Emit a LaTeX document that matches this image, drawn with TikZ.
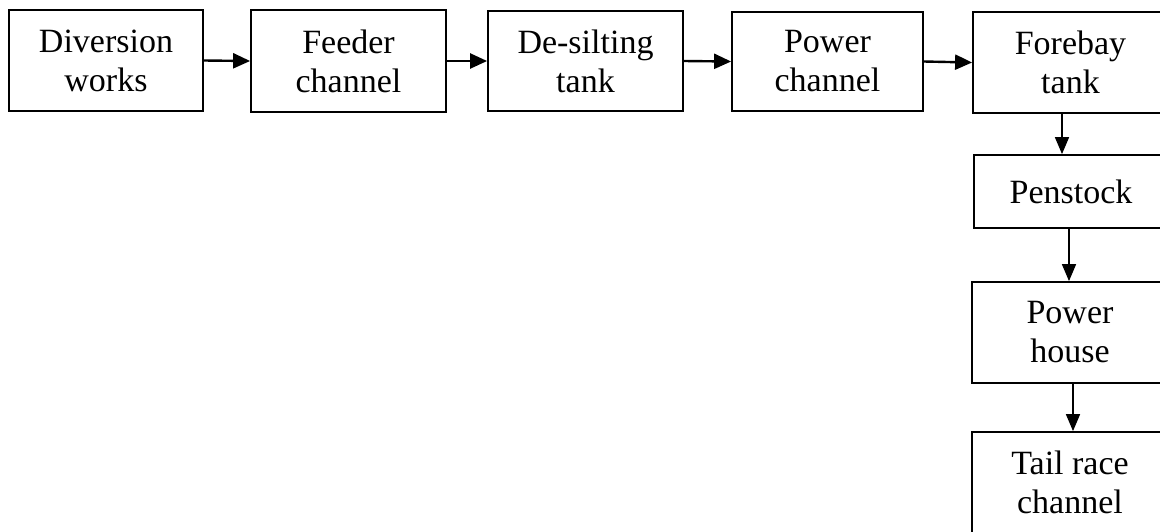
\documentclass[tikz,border=0pt]{standalone}
\usepackage{fontspec}
\setmainfont{Liberation Serif}
\usetikzlibrary{arrows.meta}
\begin{document}
\begin{tikzpicture}[x=1pt,y=-1pt,
  box/.style={draw, line width=1.8pt, inner sep=0pt, align=center,
    font=\fontsize{34}{39}\selectfont},
  harr/.style={line width=2.4pt, -{Triangle[length=17pt,width=15pt]}},
  varr/.style={line width=1.6pt, -{Triangle[length=17pt,width=14pt]}}]
\clip (0,0) rectangle (1160,531);
\fill[white] (0,0) rectangle (1160,531);
\node[box, minimum width=194pt, minimum height=101pt] (div) at (106,60.5) {Diversion\\works};
\node[box, minimum width=195pt, minimum height=102pt] (feed) at (348.5,61) {Feeder\\channel};
\node[box, minimum width=195pt, minimum height=100pt] (desilt) at (585.5,61) {De-silting\\tank};
\node[box, minimum width=191pt, minimum height=99pt] (powc) at (827.5,61.5) {Power\\channel};
\node[box, minimum width=195pt, minimum height=101pt] (fore) at (1070.5,62.5) {Forebay\\tank};
\node[box, minimum width=194pt, minimum height=73pt] (pen) at (1071,191.5) {Penstock};
\node[box, minimum width=196pt, minimum height=101pt] (ph) at (1070,332.5) {Power\\house};
\node[box, minimum width=196pt, minimum height=101pt] (tail) at (1070,482.5) {Tail race\\channel};
\draw[harr] (div.east) -- (feed.west);
\draw[harr] (feed.east) -- (desilt.west);
\draw[harr] (desilt.east) -- (powc.west);
\draw[harr] (powc.east) -- (fore.west);
\draw[varr] ([xshift=-8.5pt]fore.south) -- ([xshift=-8.5pt]fore.south |- pen.north);
\draw[varr] ([xshift=-2pt]pen.south) -- ([xshift=-2pt]pen.south |- ph.north);
\draw[varr] ([xshift=3pt]ph.south) -- ([xshift=3pt]ph.south |- tail.north);
\end{tikzpicture}
\end{document}
